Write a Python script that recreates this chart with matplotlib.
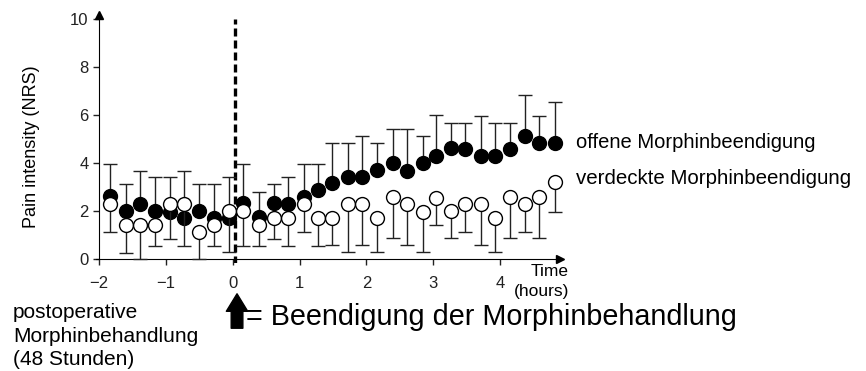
import numpy as np
import matplotlib
matplotlib.use("Agg")
import matplotlib.pyplot as plt

plt.rcParams['font.family'] = ['Liberation Sans', 'DejaVu Sans']

# Zeitpunkte (Stunden relativ zur Beendigung)
hours = [-1.84, -1.60, -1.39, -1.16, -0.94, -0.73, -0.51, -0.28, -0.06, 0.16,
         0.39, 0.61, 0.82, 1.06, 1.27, 1.49, 1.72, 1.94, 2.16, 2.39,
         2.61, 2.84, 3.04, 3.27, 3.48, 3.72, 3.93, 4.15, 4.37, 4.58, 4.82]

# offene Morphinbeendigung (gefuellte Kreise), Mittelwert und oberes Fehlerbalkenende
offen = [2.62, 2.00, 2.29, 2.00, 1.96, 1.69, 2.00, 1.69, 1.69, 2.34,
         1.73, 2.34, 2.29, 2.57, 2.87, 3.18, 3.43, 3.43, 3.71, 3.99,
         3.68, 3.99, 4.29, 4.61, 4.57, 4.29, 4.29, 4.57, 5.13, 4.85, 4.85]
offen_oben = [3.96, 3.12, 3.68, 3.40, 3.40, 3.68, 3.12, 3.12, 3.40, 3.96,
              2.80, 3.12, 3.40, 3.96, 3.96, 4.85, 4.82, 5.13, 4.82, 5.40,
              5.40, 5.13, 6.00, 5.68, 5.68, 5.97, 5.68, 5.68, 6.83, 5.97, 6.53]

# verdeckte Morphinbeendigung (offene Kreise), Mittelwert und unteres Fehlerbalkenende
verdeckt = [2.29, 1.41, 1.41, 1.41, 2.29, 2.29, 1.13, 1.41, 2.00, 2.00,
            1.41, 1.69, 1.69, 2.29, 1.69, 1.69, 2.29, 2.29, 1.69, 2.57,
            2.29, 1.97, 2.55, 2.00, 2.28, 2.28, 1.72, 2.57, 2.28, 2.57, 3.22]
verdeckt_unten = [1.13, 0.27, 0.00, 0.56, 0.84, 0.56, 0.00, 0.56, 0.28, 0.56,
                  0.56, 0.84, 0.56, 1.13, 0.56, 0.57, 0.28, 0.57, 0.28, 0.86,
                  0.57, 0.28, 1.42, 0.86, 1.14, 0.58, 0.28, 0.86, 1.14, 0.86, 1.97]

x_ticks = [-2, -1, 0, 1, 2, 3, 4]
y_ticks = [0, 2, 4, 6, 8, 10]

fig = plt.figure(figsize=(8.66, 3.71), dpi=100)
ax = fig.add_axes([0.1105, 0.2922, 0.5404, 0.676])

x = np.array(hours)
of = np.array(offen)
vd = np.array(verdeckt)

# gestrichelte Linie bei Beendigung
ax.plot([0.03, 0.03], [-0.2, 10], color='black', lw=2.4, dashes=(2.4, 1.2), zorder=1)

ax.errorbar(x, of, yerr=[np.zeros_like(of), np.array(offen_oben) - of], fmt='o',
            color='black', mfc='black', mec='black', ms=10, mew=1.0,
            ecolor='#222222', elinewidth=1.0, capsize=4.7, capthick=1.0, zorder=3)
ax.errorbar(x, vd, yerr=[vd - np.array(verdeckt_unten), np.zeros_like(vd)], fmt='o',
            color='black', mfc='white', mec='black', ms=10, mew=1.0,
            ecolor='#222222', elinewidth=1.0, capsize=4.7, capthick=1.0, zorder=4)

ax.set_xlim(-2.05, 4.95)
ax.set_ylim(-0.15, 10.3)
ax.set_xticks(x_ticks)
ax.set_yticks(y_ticks)
ax.tick_params(labelsize=12, length=4, width=1, colors='#222222')
ax.tick_params(axis='x', pad=8)
for s in ['top', 'right']:
    ax.spines[s].set_visible(False)
ax.spines['left'].set_position(('data', -2))
ax.spines['bottom'].set_position(('data', 0))
ax.spines['left'].set_bounds(0, 10.15)
ax.spines['bottom'].set_bounds(-2.05, 4.9)
ax.plot([-2], [10.15], marker='^', color='black', ms=6, clip_on=False)
ax.plot([4.9], [0], marker='>', color='black', ms=6, clip_on=False)

ax.set_ylabel('Pain intensity (NRS)', fontsize=13)
ax.yaxis.set_label_coords(-0.119, 0.461)

fig.text(0.657, 0.267, 'Time', fontsize=12.5, ha='right', va='center')
fig.text(0.657, 0.213, '(hours)', fontsize=12.5, ha='right', va='center')

fig.text(0.665, 0.617, 'offene Morphinbeendigung', fontsize=14.5, va='center')
fig.text(0.665, 0.520, 'verdeckte Morphinbeendigung', fontsize=14.8, va='center')

fig.text(0.015, 0.094, 'postoperative\nMorphinbehandlung\n(48 Stunden)', fontsize=15,
         va='center', linespacing=1.3)

ax.annotate('', xy=(0.2737, 0.2156), xytext=(0.2737, 0.1078),
            xycoords='figure fraction', textcoords='figure fraction',
            arrowprops=dict(arrowstyle='simple,head_length=0.9,head_width=1.1,tail_width=0.6',
                            fc='black', ec='black', mutation_scale=14))
fig.text(0.284, 0.145, '= Beendigung der Morphinbehandlung', fontsize=20.7, va='center')

fig.savefig('out.png', dpi=100)
